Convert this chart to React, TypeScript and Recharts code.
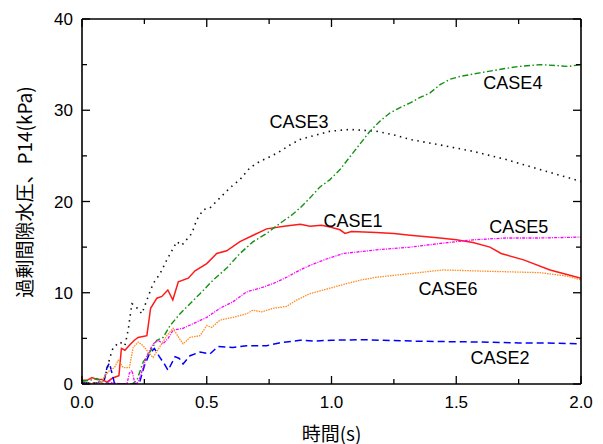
import React from 'react';
import { LineChart, Line, XAxis, YAxis, ReferenceDot } from 'recharts';

// ---- data (time in s, excess pore water pressure in kPa) ----
const case1T = [0, 0.02, 0.04, 0.06, 0.08, 0.1, 0.12, 0.136, 0.148, 0.158, 0.172, 0.192, 0.21, 0.225, 0.26, 0.275, 0.3, 0.32, 0.344, 0.364, 0.386, 0.426, 0.453, 0.5, 0.54, 0.58, 0.633, 0.686, 0.74, 0.81, 0.875, 0.914, 0.96, 0.994, 1.034, 1.054, 1.08, 1.18, 1.25, 1.315, 1.435, 1.5, 1.567, 1.635, 1.68, 1.77, 1.876, 1.97, 2.0];
const case1V = [0.4, 0.4, 0.7, 0.5, 0.5, 0.2, 0.6, 0.8, 0.9, 3.9, 3.7, 4.3, 4.8, 5.1, 5.3, 8.3, 9.4, 9.6, 10.3, 9.2, 11.2, 11.6, 12.4, 13.2, 14.3, 14.6, 15.6, 16.3, 17.0, 17.3, 17.5, 17.3, 17.4, 17.2, 16.9, 16.5, 16.7, 16.6, 16.5, 16.3, 16.0, 15.8, 15.5, 15.0, 14.3, 13.6, 12.5, 11.8, 11.6];

const case2T = [0, 0.03, 0.06, 0.09, 0.1, 0.11, 0.12, 0.13, 0.16, 0.2, 0.23, 0.25, 0.27, 0.29, 0.31, 0.33, 0.345, 0.373, 0.39, 0.405, 0.433, 0.473, 0.513, 0.545, 0.605, 0.66, 0.74, 0.79, 0.874, 0.926, 1.0, 1.127, 1.2, 1.33, 1.45, 1.595, 1.75, 1.86, 2.0];
const case2V = [0.2, 0.1, 0.1, 0.5, 1.8, 2.3, 1.2, 0.1, 0, 0, 0.1, 2.0, 3.3, 3.9, 3.0, 2.2, 1.5, 3.0, 2.8, 2.2, 3.1, 3.5, 3.3, 4.1, 4.0, 4.2, 4.2, 4.5, 4.8, 4.7, 4.8, 4.85, 4.8, 4.7, 4.65, 4.6, 4.5, 4.5, 4.4];

const case3T = [0, 0.05, 0.08, 0.092, 0.112, 0.125, 0.152, 0.172, 0.185, 0.2, 0.212, 0.24, 0.26, 0.285, 0.313, 0.34, 0.38, 0.4, 0.44, 0.46, 0.486, 0.513, 0.553, 0.593, 0.633, 0.673, 0.713, 0.753, 0.794, 0.834, 0.874, 0.94, 0.994, 1.074, 1.18, 1.25, 1.315, 1.435, 1.567, 1.7, 1.836, 2.0];
const case3V = [0.1, 0.1, 0.2, 0.75, 2.9, 4.0, 4.6, 4.2, 5.9, 8.8, 8.6, 7.7, 9.2, 11.0, 12.1, 13.6, 15.6, 15.2, 16.5, 18.0, 19.1, 19.3, 20.4, 21.5, 22.4, 23.7, 24.4, 24.9, 25.5, 26.2, 26.8, 27.3, 27.7, 27.9, 27.7, 27.3, 26.8, 26.2, 25.5, 24.6, 23.5, 22.2];

const case4T = [0, 0.03, 0.06, 0.08, 0.1, 0.12, 0.2, 0.22, 0.245, 0.265, 0.3, 0.325, 0.353, 0.393, 0.433, 0.473, 0.526, 0.58, 0.633, 0.686, 0.74, 0.793, 0.84, 0.874, 0.914, 0.954, 0.994, 1.034, 1.074, 1.114, 1.154, 1.194, 1.234, 1.275, 1.315, 1.355, 1.395, 1.435, 1.475, 1.515, 1.595, 1.702, 1.75, 1.836, 1.9, 1.95, 2.0];
const case4V = [0.3, 0.4, 0.6, 0.3, 0.1, 0, 0, 0.4, 2.4, 3.2, 4.8, 5.1, 6.4, 7.7, 8.8, 9.9, 11.4, 12.7, 14.3, 15.6, 16.5, 17.6, 18.5, 19.3, 20.4, 21.6, 22.4, 23.5, 24.9, 26.3, 27.7, 28.8, 29.7, 30.3, 30.8, 31.4, 31.9, 32.8, 33.4, 33.7, 34.1, 34.6, 34.8, 35.0, 34.9, 34.8, 35.0];

const case5T = [0, 0.1, 0.11, 0.12, 0.18, 0.19, 0.2, 0.21, 0.22, 0.233, 0.26, 0.285, 0.305, 0.325, 0.345, 0.365, 0.405, 0.46, 0.5, 0.553, 0.605, 0.66, 0.713, 0.766, 0.82, 0.874, 0.914, 0.98, 1.047, 1.18, 1.315, 1.435, 1.5, 1.567, 1.7, 1.836, 2.0];
const case5V = [0, 0, 0.4, 0.1, 0, 1.2, 1.5, 0.3, 0, 0.75, 3.1, 4.4, 4.8, 4.4, 5.0, 5.9, 6.1, 6.8, 7.3, 8.3, 9.0, 10.1, 10.5, 11.0, 11.7, 12.5, 13.0, 13.7, 14.3, 14.7, 15.0, 15.4, 15.6, 15.8, 16.0, 16.0, 16.1];

const case6T = [0, 0.05, 0.08, 0.092, 0.112, 0.13, 0.145, 0.165, 0.19, 0.205, 0.225, 0.245, 0.265, 0.285, 0.31, 0.34, 0.365, 0.39, 0.405, 0.433, 0.473, 0.5, 0.52, 0.553, 0.605, 0.66, 0.686, 0.72, 0.766, 0.82, 0.86, 0.914, 0.994, 1.06, 1.12, 1.18, 1.315, 1.447, 1.567, 1.7, 1.836, 1.95, 2.0];
const case6V = [0.1, 0.1, 0.2, 0.9, 1.5, 1.8, 2.6, 1.8, 1.8, 4.0, 4.6, 4.2, 3.5, 2.9, 4.0, 5.3, 6.1, 5.0, 4.4, 5.1, 5.3, 6.4, 6.2, 7.0, 7.3, 7.7, 8.1, 7.9, 8.3, 8.5, 9.2, 9.9, 10.5, 11.0, 11.4, 11.7, 12.1, 12.5, 12.4, 12.3, 12.2, 11.8, 11.4];

const xTicks = [0, 0.25, 0.5, 0.75, 1.0, 1.25, 1.5, 1.75, 2.0];
const yTicks = [0, 5, 10, 15, 20, 25, 30, 35, 40];

const caseNames = ['CASE1', 'CASE2', 'CASE3', 'CASE4', 'CASE5', 'CASE6'];
// label anchor positions in data units (t, kPa)
const labelT = [1.086, 1.675, 0.87, 1.727, 1.751, 1.467];
const labelV = [17.86, 2.8, 28.7, 33.0, 17.2, 10.4];

const zip = (t: number[], v: number[]) => t.map((x, i) => ({ t: x, v: v[i] }));
const series = [
  { name: 'CASE1', data: zip(case1T, case1V), stroke: '#ff1a1a', dash: undefined as string | undefined, width: 1.5 },
  { name: 'CASE2', data: zip(case2T, case2V), stroke: '#0000ff', dash: '7 4', width: 1.5 },
  { name: 'CASE3', data: zip(case3T, case3V), stroke: '#111111', dash: '1.5 4.5', width: 1.6 },
  { name: 'CASE4', data: zip(case4T, case4V), stroke: '#129112', dash: '6 2.5 1.5 2.5', width: 1.4 },
  { name: 'CASE5', data: zip(case5T, case5V), stroke: '#ff00ff', dash: '3 1.2 1 1.2', width: 1.3 },
  { name: 'CASE6', data: zip(case6T, case6V), stroke: '#ff8c1f', dash: '1.5 1', width: 1.3 },
];

const FONT = '"Liberation Sans", Arial, sans-serif';
const CJK = '"Noto Sans CJK JP", "Noto Sans", sans-serif';

const isMajorX = (v: number) => Math.abs(v * 2 - Math.round(v * 2)) < 1e-6;
const isMajorY = (v: number) => Math.abs(v / 10 - Math.round(v / 10)) < 1e-6;

const BottomTick = (p: any) => {
  const { x, y, payload } = p;
  const major = isMajorX(payload.value);
  return (
    <g>
      <line x1={x} y1={y} x2={x} y2={y - (major ? 8 : 5)} stroke="#000" strokeWidth={1.3} />
      {major && (
        <text x={x} y={y + 23.5} textAnchor="middle" fontFamily={FONT} fontSize={17} fill="#000">
          {payload.value.toFixed(1)}
        </text>
      )}
    </g>
  );
};
const TopTick = (p: any) => {
  const { x, y, payload } = p;
  const major = isMajorX(payload.value);
  return <line x1={x} y1={y} x2={x} y2={y + (major ? 8 : 5)} stroke="#000" strokeWidth={1.3} />;
};
const LeftTick = (p: any) => {
  const { x, y, payload } = p;
  const major = isMajorY(payload.value);
  return (
    <g>
      <line x1={x} y1={y} x2={x + (major ? 8 : 5)} y2={y} stroke="#000" strokeWidth={1.3} />
      {major && (
        <text x={x - 9} y={y + 6} textAnchor="end" fontFamily={FONT} fontSize={17} fill="#000">
          {payload.value}
        </text>
      )}
    </g>
  );
};
const RightTick = (p: any) => {
  const { x, y, payload } = p;
  const major = isMajorY(payload.value);
  return <line x1={x} y1={y} x2={x - (major ? 8 : 5)} y2={y} stroke="#000" strokeWidth={1.3} />;
};

export default function App() {
  return (
    <div style={{ position: 'absolute', left: 0, top: 0, width: 603, height: 444, background: '#fff' }}>
      <LineChart width={603} height={444} margin={{ top: 0, right: 0, bottom: 0, left: 0 }}>
        <XAxis
          xAxisId="b"
          type="number"
          dataKey="t"
          domain={[0, 2]}
          ticks={xTicks}
          interval={0}
          height={60}
          tickSize={0}
          tickMargin={0}
          tickLine={false}
          tick={<BottomTick />}
          axisLine={{ stroke: '#000', strokeWidth: 1.6 }}
          allowDataOverflow
          label={(p: any) => {
            const vb = p.viewBox;
            return (
              <text x={vb.x + vb.width / 2} y={vb.y + 48} textAnchor="middle" dominantBaseline="central" fontFamily={CJK} fontSize={19} fill="#000">
                時間(s)
              </text>
            );
          }}
        />
        <XAxis
          xAxisId="t"
          orientation="top"
          type="number"
          dataKey="t"
          domain={[0, 2]}
          ticks={xTicks}
          interval={0}
          height={19}
          tickSize={0}
          tickMargin={0}
          tickLine={false}
          tick={<TopTick />}
          axisLine={{ stroke: '#000', strokeWidth: 1.6 }}
          allowDataOverflow
        />
        <YAxis
          yAxisId="l"
          type="number"
          domain={[0, 40]}
          ticks={yTicks}
          interval={0}
          width={82}
          tickSize={0}
          tickMargin={0}
          tickLine={false}
          tick={<LeftTick />}
          axisLine={{ stroke: '#000', strokeWidth: 1.6 }}
          allowDataOverflow
          label={(p: any) => {
            const vb = p.viewBox;
            const cx = vb.x + 23;
            const cy = vb.y + 173;
            return (
              <text x={cx} y={cy} textAnchor="middle" dominantBaseline="central" transform={`rotate(-90 ${cx} ${cy})`} fontFamily={CJK} fontSize={19} fill="#000">
                過剰間隙水圧、P14(kPa)
              </text>
            );
          }}
        />
        <YAxis
          yAxisId="r"
          orientation="right"
          type="number"
          domain={[0, 40]}
          ticks={yTicks}
          interval={0}
          width={22}
          tickSize={0}
          tickMargin={0}
          tickLine={false}
          tick={<RightTick />}
          axisLine={{ stroke: '#000', strokeWidth: 1.6 }}
          allowDataOverflow
        />
        {series.map((s) => (
          <Line
            key={s.name}
            xAxisId="b"
            yAxisId="l"
            data={s.data}
            dataKey="v"
            type="linear"
            stroke={s.stroke}
            strokeWidth={s.width}
            strokeDasharray={s.dash}
            dot={false}
            activeDot={false}
            isAnimationActive={false}
          />
        ))}
        {caseNames.map((n, i) => (
          <ReferenceDot
            key={n}
            xAxisId="b"
            yAxisId="l"
            x={labelT[i]}
            y={labelV[i]}
            r={0}
            ifOverflow="visible"
            shape={(p: any) => (
              <text x={p.cx} y={p.cy} textAnchor="middle" dominantBaseline="central" fontFamily={FONT} fontSize={18} fill="#000">
                {n}
              </text>
            )}
          />
        ))}
      </LineChart>
    </div>
  );
}
